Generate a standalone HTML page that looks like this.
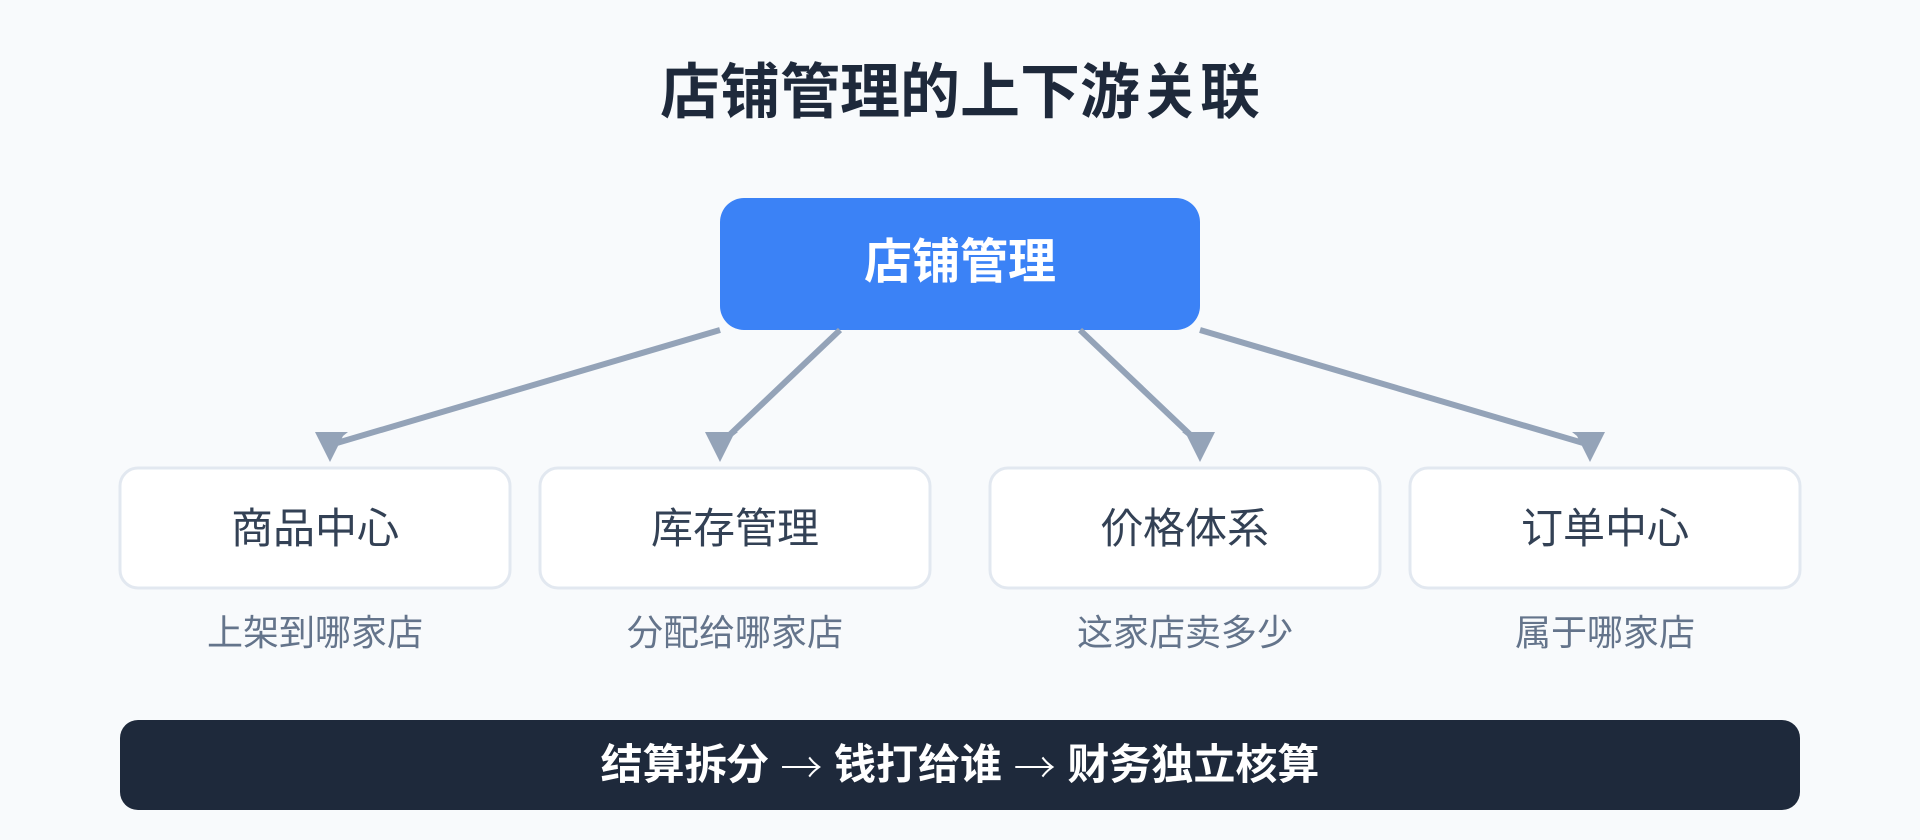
<!DOCTYPE html>
<html><head><meta charset="utf-8"><title>店铺管理的上下游关联</title>
<style>
html,body{margin:0;padding:0;background:#f8fafc}
svg{display:block}
text{font-family:"Liberation Sans","Noto Sans CJK JP",sans-serif;text-anchor:middle}
tspan.a{font-family:"Noto Serif CJK SC",serif}
</style></head>
<body>
<svg xmlns="http://www.w3.org/2000/svg" width="1920" height="840" viewBox="0 0 1920 840">
<rect width="1920" height="840" fill="#f8fafc"/>
<text x="960" y="113" font-size="60" font-weight="700" fill="#1e293b">店铺管理的上下游关联</text>
<rect x="720" y="198" width="480" height="132" rx="24" fill="#3b82f6"/>
<text x="960" y="278" font-size="48" font-weight="700" fill="#ffffff">店铺管理</text>
<g stroke="#94a3b8" stroke-width="6" fill="none">
<line x1="720" y1="330" x2="330" y2="445"/>
<line x1="840" y1="330" x2="720" y2="444"/>
<line x1="1080" y1="330" x2="1200" y2="444"/>
<line x1="1200" y1="330" x2="1590" y2="445"/>
</g>
<g fill="#94a3b8">
<polygon points="315,432 348,432 343,436 330,462"/>
<polygon points="705,432 738,432 733,436 720,462"/>
<polygon points="1182,432 1215,432 1200,462 1187,436"/>
<polygon points="1572,432 1605,432 1590,462 1577,436"/>
</g>
<g fill="#ffffff" stroke="#e2e8f0" stroke-width="3">
<rect x="120" y="468" width="390" height="120" rx="18"/>
<rect x="540" y="468" width="390" height="120" rx="18"/>
<rect x="990" y="468" width="390" height="120" rx="18"/>
<rect x="1410" y="468" width="390" height="120" rx="18"/>
</g>
<g font-size="42" fill="#334155">
<text x="315" y="543">商品中心</text>
<text x="735" y="543">库存管理</text>
<text x="1185" y="543">价格体系</text>
<text x="1605" y="543">订单中心</text>
</g>
<g font-size="36" fill="#64748b">
<text x="315" y="645">上架到哪家店</text>
<text x="735" y="645">分配给哪家店</text>
<text x="1185" y="645">这家店卖多少</text>
<text x="1605" y="645">属于哪家店</text>
</g>
<rect x="120" y="720" width="1680" height="90" rx="18" fill="#1e293b"/>
<text x="960" y="779" font-size="42" font-weight="700" fill="#ffffff">结算拆分 <tspan class="a" dy="4">→</tspan><tspan dy="-4"> 钱打给谁 </tspan><tspan class="a" dy="4">→</tspan><tspan dy="-4"> 财务独立核算</tspan></text>
</svg>
</body></html>
